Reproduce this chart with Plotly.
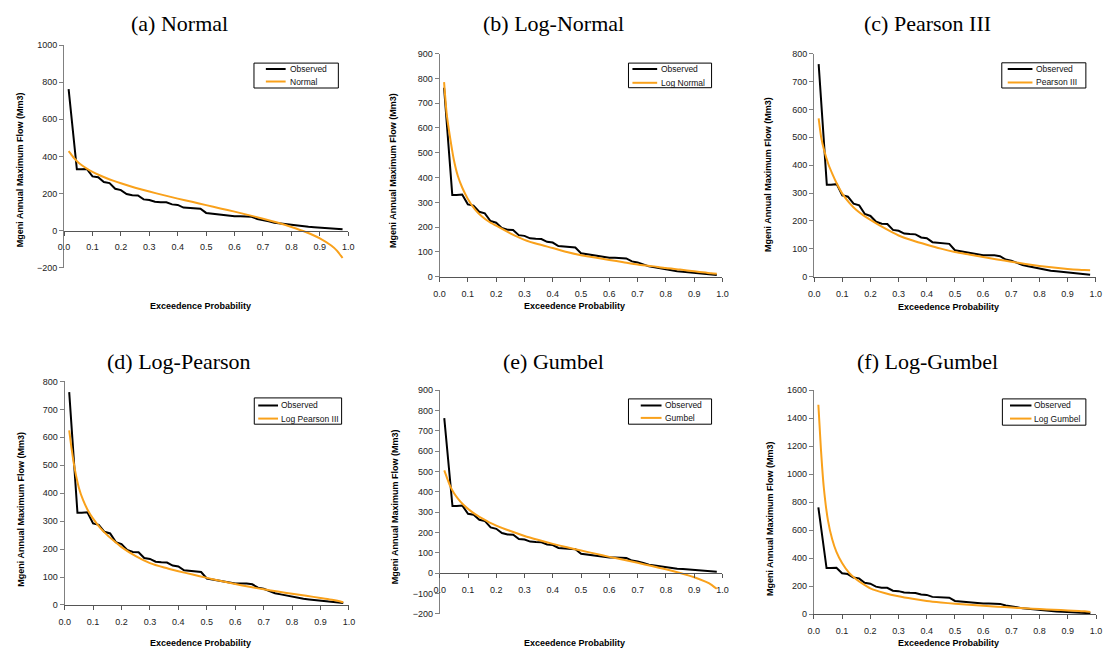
import plotly.graph_objects as go

W, H = 1107, 655

# ---------------- data ----------------
obs_p = [0.016, 0.045, 0.06, 0.08, 0.10, 0.12, 0.14, 0.16, 0.18, 0.20, 0.22, 0.24, 0.26, 0.28,
         0.30, 0.32, 0.34, 0.36, 0.38, 0.40, 0.42, 0.44, 0.46, 0.48, 0.50, 0.52, 0.54, 0.56,
         0.58, 0.60, 0.62, 0.64, 0.66, 0.68, 0.70, 0.72, 0.74, 0.76, 0.78, 0.80, 0.82, 0.84,
         0.86, 0.88, 0.90, 0.92, 0.94, 0.96, 0.98]
observed = [762, 330, 330, 332, 292, 287, 262, 256, 225, 218, 197, 190, 189, 168, 165, 155,
            153, 152, 141, 138, 124, 122, 120, 118, 95, 91, 88, 83, 79, 77, 77, 77, 74, 62,
            58, 50, 42, 38, 34, 28, 24, 22, 20, 18, 16, 13, 11, 9, 7]

fit_p = [0.016, 0.025, 0.035, 0.05, 0.065, 0.08, 0.1, 0.125, 0.15, 0.175, 0.2, 0.25, 0.3,
         0.35, 0.4, 0.45, 0.5, 0.55, 0.6, 0.65, 0.7, 0.75, 0.8, 0.85, 0.9, 0.94, 0.96, 0.98]
normal = [428, 411, 391, 367, 349, 334, 316, 298, 282, 268, 255, 231, 210, 191, 172, 155,
          137, 119, 102, 83, 64, 43, 19, -8, -42, -81, -108, -148]
lognormal = [785, 660, 578, 475, 405, 360, 314, 272, 243, 222, 206, 175, 149, 131, 116, 100,
             87, 78, 68, 59, 50, 43, 35, 29, 22, 17, 14, 12]
pearson3 = [568, 500, 455, 405, 368, 335, 298, 265, 239, 220, 204, 174, 148, 130, 115, 101,
            89, 80, 71, 62, 54, 46, 39, 33, 28, 25, 24, 23]
logpearson = [625, 555, 490, 420, 375, 342, 309, 276, 250, 228, 207, 175, 150, 134, 121, 109,
              97, 86, 75, 65, 56, 48, 40, 33, 25, 19, 15, 10]
gumbel = [505, 471, 434, 394, 365, 341, 316, 290, 269, 250, 234, 207, 183, 163, 144, 127,
          111, 96, 80, 66, 51, 35, 19, 1, -20, -42, -56, -77]
loggumbel = [1495, 1180, 910, 670, 535, 445, 365, 295, 250, 215, 185, 152, 128, 110, 95, 84,
             75, 67, 60, 54, 48, 42, 37, 32, 27, 23, 21, 17]

panel_titles = ["(a) Normal", "(b) Log-Normal", "(c) Pearson III",
                "(d) Log-Pearson", "(e) Gumbel", "(f) Log-Gumbel"]
fit_names = ["Normal", "Log Normal", "Pearson III", "Log Pearson III", "Gumbel", "Log Gumbel"]
fits = [normal, lognormal, pearson3, logpearson, gumbel, loggumbel]
y_ranges = [[-200, 1000], [0, 900], [0, 800], [0, 800], [-200, 900], [0, 1600]]
y_dticks = [200, 100, 100, 100, 100, 200]
x_tickvals = [0.0, 0.1, 0.2, 0.3, 0.4, 0.5, 0.6, 0.7, 0.8, 0.9, 1.0]
x_title = "Exceedence Probability"
y_title = "Mgeni Annual Maximum Flow (Mm3)"

# ---------------- layout geometry (window pixels) ----------------
geom = [
    dict(pa=(58.7, 346.0, 40.7, 266.7), title=(175, 19), yt=(15, 167), xt=(196.7, 306),
         box=(250.7, 59, 336, 84.3), ln=(262.7, 282.7), tx=285, rows=(65, 77.7)),
    dict(pa=(438.3, 724.3, 49.3, 276), title=(553.3, 19), yt=(391.7, 168), xt=(575, 306),
         box=(629.3, 59, 713.3, 84), ln=(633.3, 658.3), tx=660, rows=(65, 79)),
    dict(pa=(817.0, 1101.7, 49.3, 276), title=(931.7, 19), yt=(771, 172), xt=(953.3, 306.7),
         box=(1006.7, 58.7, 1091.7, 84.3), ln=(1012.7, 1037.7), tx=1039.3, rows=(65, 78.7)),
    dict(pa=(59.3, 346.7, 382.3, 609.3), title=(175, 361.7), yt=(15, 511.7), xt=(196.7, 648.3),
         box=(251, 399, 339.3, 425.7), ln=(255, 275), tx=276, rows=(406.7, 420)),
    dict(pa=(438.5, 724.3, 391, 618.3), title=(553.3, 361.7), yt=(393.3, 510), xt=(575, 648.3),
         box=(629.3, 400, 713.3, 425.7), ln=(641.7, 662.7), tx=664, rows=(406.7, 419.3)),
    dict(pa=(816.7, 1102.0, 391, 618.7), title=(931.7, 361.7), yt=(771.7, 521.7), xt=(953.3, 648.3),
         box=(1007.3, 400, 1091.7, 426.7), ln=(1015, 1036.7), tx=1037.3, rows=(406.7, 420)),
]


def fx(px):
    return px / W


def fy(py):
    return 1 - py / H


ORANGE = "#F9A11B"
SANS = "Arial, Liberation Sans, sans-serif"
SERIF = "Times New Roman, Liberation Serif, serif"

fig = go.Figure()
layout = dict(
    width=W, height=H,
    margin=dict(l=0, r=0, t=0, b=0),
    paper_bgcolor="white", plot_bgcolor="white",
    showlegend=False,
    font=dict(family=SANS, size=9, color="#222"),
)
annotations = []
shapes = []

for i in range(6):
    g = geom[i]
    n = "" if i == 0 else str(i + 1)
    xa, ya = "x" + n, "y" + n
    x0, x1, y0, y1 = g["pa"]
    xdom = [fx(x0), fx(x1)]
    ydom = [fy(y1), fy(y0)]
    ymin, ymax = y_ranges[i]

    fig.add_trace(go.Scatter(x=obs_p, y=observed, mode="lines", name="Observed",
                             line=dict(color="black", width=2), xaxis=xa, yaxis=ya))
    fig.add_trace(go.Scatter(x=fit_p, y=fits[i], mode="lines", name=fit_names[i],
                             line=dict(color=ORANGE, width=2, shape="spline", smoothing=0.6),
                             xaxis=xa, yaxis=ya))

    xax = dict(domain=xdom, range=[0, 1], tickvals=x_tickvals, tickformat=".1f",
               showgrid=False, zeroline=False, showline=True, linecolor="#555", linewidth=1,
               ticks="outside", ticklen=4, tickcolor="#555", ticklabelstandoff=4,
               tickfont=dict(family=SANS, size=9, color="#222"))
    if ymin < 0:
        frac = (0 - ymin) / (ymax - ymin)
        xax.update(anchor="free", position=ydom[0] + frac * (ydom[1] - ydom[0]))
    else:
        xax.update(anchor=ya)
    yax = dict(domain=ydom, range=[ymin, ymax], dtick=y_dticks[i], tick0=0,
               showgrid=False, zeroline=False, showline=True, linecolor="#808080",
               linewidth=1, ticks="outside", ticklen=4, tickcolor="#808080",
               anchor=xa, tickfont=dict(family=SANS, size=9, color="#222"))
    layout["xaxis" + n] = xax
    layout["yaxis" + n] = yax

    # panel title
    annotations.append(dict(text=panel_titles[i], x=fx(g["title"][0]), y=fy(g["title"][1]),
                            xref="paper", yref="paper", showarrow=False,
                            xanchor="center", yanchor="middle",
                            font=dict(family=SERIF, size=22, color="black")))
    # axis titles
    annotations.append(dict(text="<b>" + y_title + "</b>", x=fx(g["yt"][0]), y=fy(g["yt"][1]),
                            xref="paper", yref="paper", showarrow=False, textangle=-90,
                            xanchor="center", yanchor="middle",
                            font=dict(family=SANS, size=9, color="black")))
    annotations.append(dict(text="<b>" + x_title + "</b>", x=fx(g["xt"][0]), y=fy(g["xt"][1]),
                            xref="paper", yref="paper", showarrow=False,
                            xanchor="center", yanchor="middle",
                            font=dict(family=SANS, size=9, color="black")))
    # legend box
    bl, bt, br, bb = g["box"]
    shapes.append(dict(type="rect", xref="paper", yref="paper", x0=fx(bl), x1=fx(br),
                       y0=fy(bb), y1=fy(bt), line=dict(color="black", width=1),
                       fillcolor="white", layer="above"))
    for label, color, ry in (("Observed", "black", g["rows"][0]),
                             (fit_names[i], ORANGE, g["rows"][1])):
        shapes.append(dict(type="line", xref="paper", yref="paper",
                           x0=fx(g["ln"][0]), x1=fx(g["ln"][1]), y0=fy(ry), y1=fy(ry),
                           line=dict(color=color, width=2), layer="above"))
        annotations.append(dict(text=label, x=fx(g["tx"]), y=fy(ry), xref="paper",
                                yref="paper", showarrow=False, xanchor="left",
                                yanchor="middle",
                                font=dict(family=SANS, size=8.5, color="#111")))

layout["annotations"] = annotations
layout["shapes"] = shapes
fig.update_layout(**layout)
fig.write_html("out.html",
               config={"displayModeBar": False},
               post_script="document.body.style.margin='0';document.body.style.overflow='hidden';")
